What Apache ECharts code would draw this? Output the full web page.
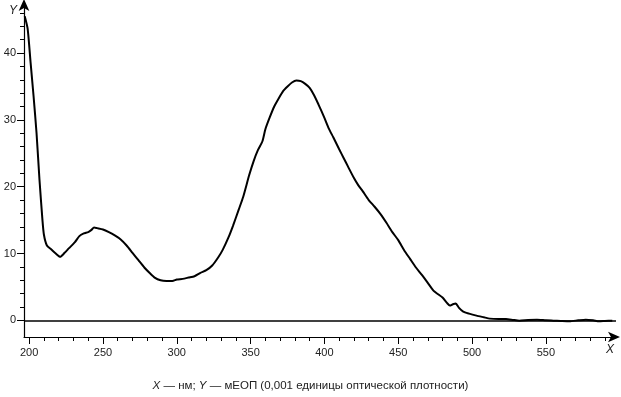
<!DOCTYPE html>
<html>
<head>
<meta charset="utf-8">
<script src="https://cdn.jsdelivr.net/npm/echarts@6/dist/echarts.min.js"></script>
<style>
  html, body { margin: 0; padding: 0; background: #fff; }
  #chart { width: 621px; height: 397px; }
</style>
</head>
<body>
<div id="chart"></div>
<script>
// wavelength, nm
const wavelengths = [
  197, 199, 201, 203, 205, 207, 209, 210, 212, 215, 218, 221, 224, 227, 231, 234, 237, 240, 242, 244,
  246, 250, 254, 258, 262, 266, 270, 274, 278, 282, 285, 289, 293, 297, 300, 304, 308, 312, 316, 320,
  324, 328, 331, 335, 338, 342, 345, 349, 352, 355, 358, 360, 363, 366, 369, 372, 375, 378, 381, 384,
  387, 390, 393, 396, 400, 403, 406, 410, 413, 416, 420, 423, 426, 430, 434, 438, 442, 446, 450, 454,
  458, 462, 466, 470, 474, 477, 480, 483, 485, 487, 489, 491, 494, 498, 503, 508, 512, 518, 523, 528,
  532, 538, 544, 550, 555, 560, 566, 572, 577, 582, 586, 590, 595
]
// optical density, mEOP
const density = [
  45.5, 43.6, 38.5, 33.5, 28.0, 21.0, 15.0, 12.8, 11.2, 10.6, 10.0, 9.5, 10.1, 10.8, 11.7, 12.6, 13.0, 13.2, 13.5, 13.9,
  13.8, 13.6, 13.2, 12.7, 12.1, 11.2, 10.1, 9.0, 7.9, 7.0, 6.4, 6.0, 5.9, 5.9, 6.1, 6.2, 6.4, 6.6, 7.1, 7.5,
  8.2, 9.4, 10.5, 12.4, 14.1, 16.6, 18.5, 21.7, 23.8, 25.5, 26.8, 28.6, 30.4, 32.0, 33.2, 34.3, 35.0, 35.6, 35.9, 35.8,
  35.4, 34.8, 33.7, 32.3, 30.3, 28.7, 27.4, 25.6, 24.3, 23.0, 21.3, 20.2, 19.3, 18.0, 17.0, 15.9, 14.6, 13.2, 12.0, 10.5,
  9.2, 7.9, 6.8, 5.6, 4.4, 3.9, 3.4, 2.6, 2.2, 2.4, 2.5, 1.9, 1.3, 1.0, 0.7, 0.45, 0.25, 0.2, 0.2, 0.05,
  -0.05, 0.05, 0.1, 0.0, -0.05, -0.1, -0.15, 0.0, 0.1, 0.0, -0.15, -0.1, -0.05
]

const xLabels = [200, 250, 300, 350, 400, 450, 500, 550]
const xMinorTicks = [200, 210, 220, 230, 240, 250, 260, 270, 280, 290, 300, 310, 320, 330, 340, 350, 360, 370, 380, 390,
  400, 410, 420, 430, 440, 450, 460, 470, 480, 490, 500, 510, 520, 530, 540, 550, 560, 570, 580, 590]
const yLabels = [0, 10, 20, 30, 40]
const yMinorTicks = [2, 4, 6, 8, 12, 14, 16, 18, 22, 24, 26, 28, 32, 34, 36, 38, 42, 44, 46]

const X_MIN = 196.5
const X_MAX = 597.5
const Y_MIN = -2.5
const Y_MAX = 47.5

const FONT = '"Liberation Sans", Arial, sans-serif'
const labelStyle = { color: '#222', fontSize: 11, fontFamily: FONT }

const points = wavelengths.map((w, i) => [w, density[i]])

const chart = echarts.init(document.getElementById('chart'), null, { renderer: 'canvas' })

chart.setOption({
  animation: false,
  backgroundColor: '#fff',
  grid: { left: 24, right: 5, top: 3, bottom: 60, containLabel: false },
  xAxis: [
    {
      type: 'value',
      min: X_MIN,
      max: X_MAX,
      position: 'bottom',
      axisLine: {
        onZero: false,
        lineStyle: { color: '#000', width: 1.2 },
        symbol: ['none', 'arrow'],
        symbolSize: [8, 12],
        symbolOffset: [0, 4],
      },
      axisTick: { show: true, length: 7, customValues: xLabels, lineStyle: { color: '#000' } },
      axisLabel: { ...labelStyle, margin: 10, customValues: xLabels },
      splitLine: { show: false },
    },
    {
      // minor ticks every 10 nm
      type: 'value',
      min: X_MIN,
      max: X_MAX,
      position: 'bottom',
      axisLine: { show: true, onZero: false, lineStyle: { color: 'rgba(0,0,0,0)' } },
      axisTick: { show: true, length: 4, customValues: xMinorTicks, lineStyle: { color: '#000' } },
      axisLabel: { show: false, customValues: xMinorTicks },
      splitLine: { show: false },
    },
  ],
  yAxis: [
    {
      type: 'value',
      min: Y_MIN,
      max: Y_MAX,
      position: 'left',
      axisLine: {
        onZero: false,
        lineStyle: { color: '#000', width: 1.2 },
        symbol: ['none', 'arrow'],
        symbolSize: [8, 12],
        symbolOffset: [0, 4],
      },
      axisTick: { show: true, length: 7, customValues: yLabels, lineStyle: { color: '#000' } },
      axisLabel: { ...labelStyle, margin: 8, customValues: yLabels },
      splitLine: { show: false },
    },
    {
      // minor ticks every 2 units
      type: 'value',
      min: Y_MIN,
      max: Y_MAX,
      position: 'left',
      axisLine: { show: true, onZero: false, lineStyle: { color: 'rgba(0,0,0,0)' } },
      axisTick: { show: true, length: 4, customValues: yMinorTicks, lineStyle: { color: '#000' } },
      axisLabel: { show: false, customValues: yMinorTicks },
      splitLine: { show: false },
    },
  ],
  graphic: [
    {
      type: 'text', left: 9, top: 5,
      style: { text: 'Y', font: 'italic 12px ' + FONT, fill: '#222' },
    },
    {
      type: 'text', left: 606, top: 344,
      style: { text: 'X', font: 'italic 12px ' + FONT, fill: '#222' },
    },
    {
      type: 'text', left: 'center', top: 380,
      style: {
        text: '{i|X} — нм; {i|Y} — мЕОП (0,001 единицы оптической плотности)',
        font: '11.5px ' + FONT,
        fill: '#222',
        rich: { i: { fontStyle: 'italic', fontSize: 11.5, fontFamily: FONT, fill: '#222' } },
      },
    },
  ],
  series: [
    {
      type: 'line',
      xAxisIndex: 0,
      yAxisIndex: 0,
      data: points,
      showSymbol: false,
      smooth: 0.2,
      lineStyle: { color: '#000', width: 2 },
      markLine: {
        silent: true,
        symbol: ['none', 'none'],
        label: { show: false },
        lineStyle: { color: '#000', width: 1.5, type: 'solid' },
        data: [{ yAxis: 0 }],
      },
      z: 3,
    },
    {
      // invisible copy so the minor-tick axes have data
      type: 'line',
      xAxisIndex: 1,
      yAxisIndex: 1,
      data: points,
      showSymbol: false,
      silent: true,
      lineStyle: { opacity: 0 },
    },
  ],
})
</script>
</body>
</html>
